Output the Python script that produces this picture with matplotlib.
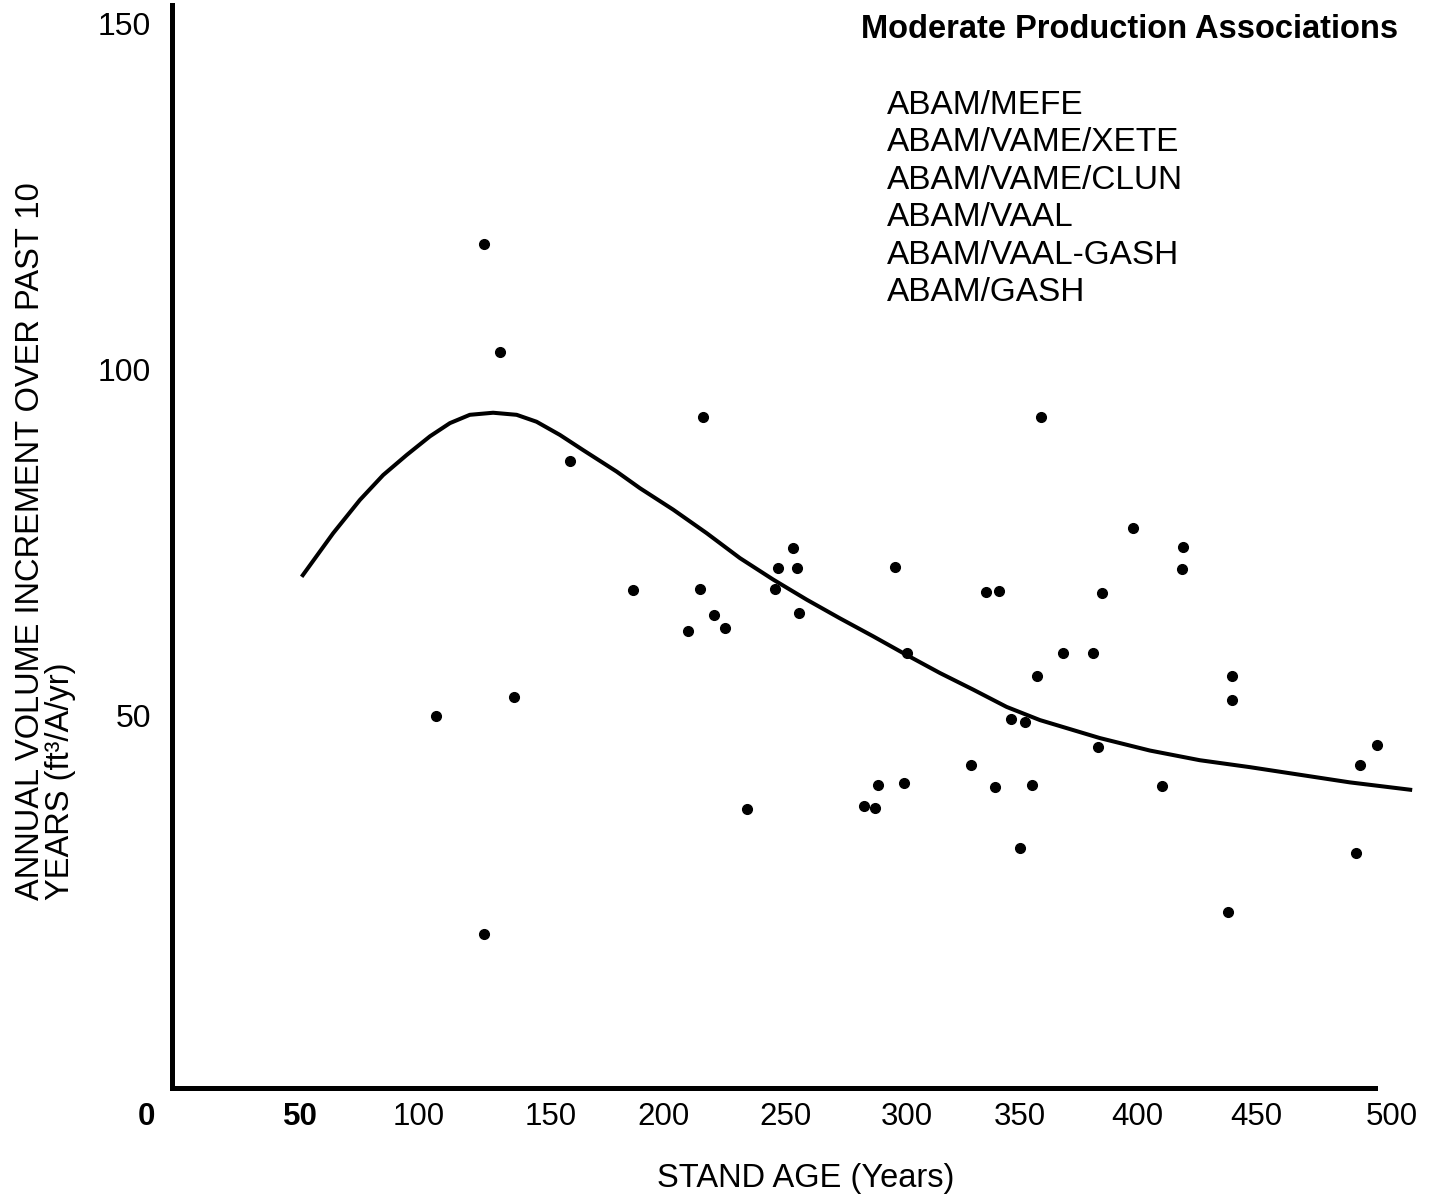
import numpy as np
import matplotlib.pyplot as plt
from matplotlib.transforms import ScaledTranslation

plt.rcParams['font.family'] = ['Liberation Sans', 'DejaVu Sans']

# observed plots: stand age (years) and 10-yr annual volume increment (ft3/A/yr)
age = [125.8, 132.4, 161.2, 216.0, 355.3, 106.0, 138.2, 125.8, 187.2, 214.8,
       209.9, 220.6, 225.1, 234.2, 246.9, 245.7, 253.1, 254.8, 255.6, 295.2,
       300.1, 282.4, 286.9, 288.2, 298.9, 326.5, 332.7, 338.0, 342.9, 348.7,
       336.4, 351.6, 353.7, 393.2, 413.8, 413.4, 380.4, 364.4, 376.7, 378.8,
       405.2, 434.0, 434.0, 346.7, 493.8, 486.8, 485.1, 432.4]
increment = [118.2, 102.6, 86.8, 93.2, 93.2, 50.0, 52.7, 18.5, 68.2, 68.4,
             62.3, 64.6, 62.7, 36.6, 71.4, 68.4, 74.3, 71.4, 64.9, 71.5,
             59.1, 37.0, 36.7, 40.0, 40.3, 42.9, 67.9, 68.1, 49.6, 49.1,
             39.7, 40.0, 55.8, 77.2, 74.4, 71.2, 67.8, 59.1, 59.1, 45.5,
             39.9, 55.8, 52.3, 30.9, 45.8, 42.9, 30.2, 21.7]

# fitted curve
curve_age = [50.7, 63.7, 74.7, 84.3, 94.0, 103.6, 111.8, 120.0, 129.6, 139.3,
             147.5, 157.1, 166.7, 180.5, 190.1, 203.8, 217.6, 231.3, 245.0,
             258.8, 272.5, 286.2, 300.0, 313.7, 327.4, 341.2, 354.9, 379.6,
             400.2, 420.8, 441.4, 462.0, 482.6, 508.3]
curve_val = [70.1, 76.4, 81.2, 84.8, 87.7, 90.4, 92.3, 93.5, 93.8, 93.5,
             92.5, 90.6, 88.4, 85.3, 82.9, 79.8, 76.4, 72.8, 69.7,
             66.8, 64.1, 61.5, 58.8, 56.2, 53.8, 51.3, 49.4, 46.8,
             45.0, 43.6, 42.6, 41.5, 40.4, 39.3]

associations = ['ABAM/MEFE', 'ABAM/VAME/XETE', 'ABAM/VAME/CLUN', 'ABAM/VAAL',
                'ABAM/VAAL-GASH', 'ABAM/GASH']

xticks = [0, 50, 100, 150, 200, 250, 300, 350, 400, 450, 500]
yticks = [50, 100, 150]

fig = plt.figure(figsize=(14.34, 12), dpi=100)
ax = fig.add_axes([0.1199, 0.0933, 0.8703, 0.9025])

ax.plot(curve_age, curve_val, color='black', lw=2.9, solid_capstyle='butt',
        solid_joinstyle='round', clip_on=False)
ax.plot(age, increment, 'o', color='black', ms=7, clip_on=False)

ax.set_xlim(-2.74, 511.5)
ax.set_ylim(-3.76, 152.7)

for s in ['top', 'right']:
    ax.spines[s].set_visible(False)
ax.spines['left'].set_linewidth(3.6)
ax.spines['bottom'].set_linewidth(3.6)
ax.spines['bottom'].set_bounds(-2.74, 492.9)
ax.tick_params(length=0)

ax.set_xticks(xticks, [str(v) for v in xticks])
ax.tick_params(axis='x', pad=10, labelsize=22.5)
nudge = {0: -32, 100: -3, 150: 8, 350: -8, 400: -12, 450: -14}
for v, lab in zip(xticks, ax.get_xticklabels()):
    if v in (0, 50):
        lab.set_fontweight('bold')
    if v in nudge:
        lab.set_transform(lab.get_transform() +
                          ScaledTranslation(nudge[v] / 100, 0, fig.dpi_scale_trans))

ax.set_yticks(yticks, [str(v) for v in yticks])
ax.tick_params(axis='y', pad=15, labelsize=23)

fig.text(0.032, 0.25, 'ANNUAL VOLUME INCREMENT OVER PAST 10\nYEARS (ft\u00b3/A/yr)',
         rotation=90, ha='center', va='bottom', multialignment='left',
         fontsize=23.5, linespacing=0.95)
fig.text(0.562, 0.018, 'STAND AGE (Years)', ha='center', va='center', fontsize=23.5)

fig.text(0.975, 0.975, 'Moderate Production Associations', ha='right',
         va='center', fontsize=23.5, fontweight='bold')
fig.text(0.6186, 0.925, '\n'.join(associations), ha='left', va='top',
         fontsize=24, linespacing=1.27)

fig.savefig('out.png', dpi=100, facecolor='white')
